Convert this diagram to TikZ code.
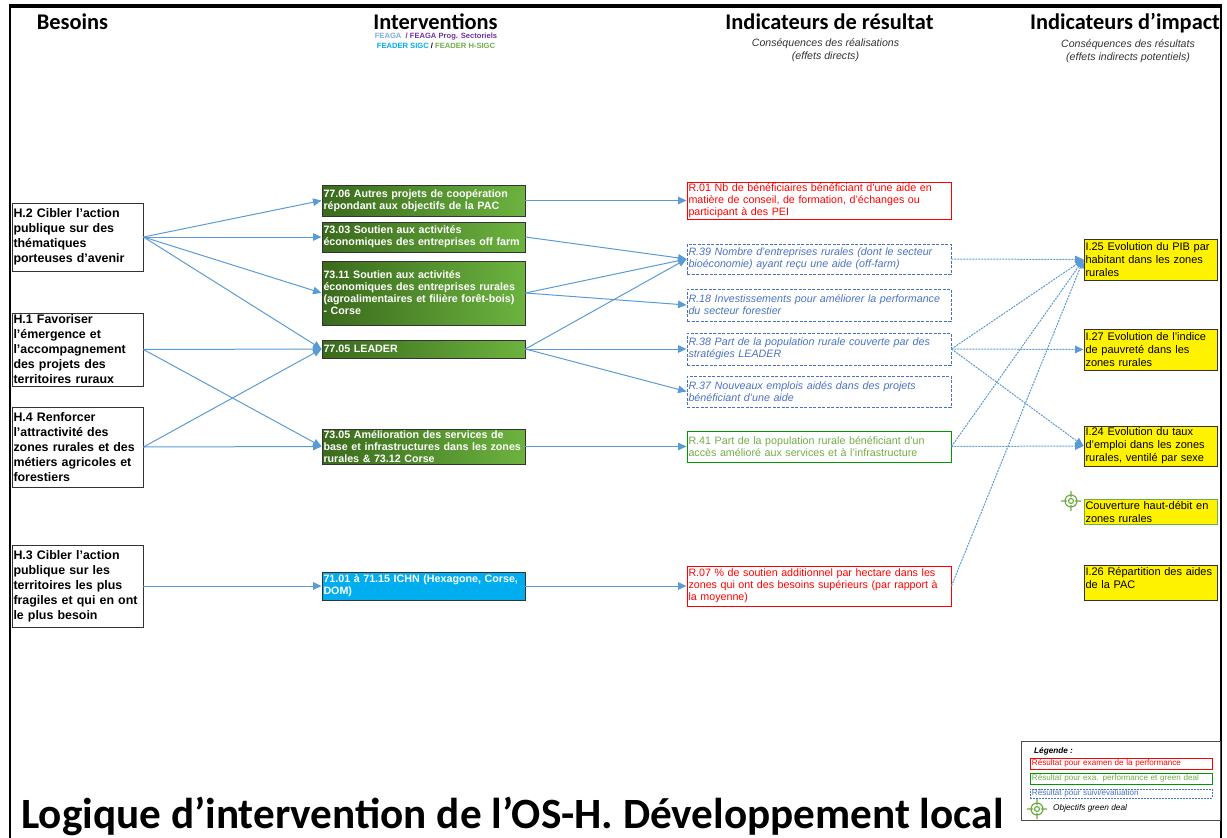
\documentclass[tikz,border=0pt]{standalone}
\usepackage{fontspec}
\setmainfont{Liberation Sans}
\newfontfamily\titlefont{Carlito}
\usetikzlibrary{arrows.meta}
\definecolor{fleche}{HTML}{5B9BD5}
\definecolor{vertfonce}{HTML}{3A6A1C}
\definecolor{vertclair}{HTML}{6CB33F}
\definecolor{vertgd}{HTML}{70AD47}
\definecolor{bleusuivi}{HTML}{4472C4}
\definecolor{texsuivi}{HTML}{4A72C4}
\definecolor{bleuichn}{HTML}{00AEEF}
\definecolor{violet}{HTML}{7030A0}
\tikzset{
    boite/.style={draw, line width=0.9pt, inner xsep=1.5pt, inner ysep=0pt, align=left},
    besoin/.style={boite, draw=black!80, text width=128pt, minimum width=131pt,
        font=\fontsize{12.4}{15}\selectfont\bfseries},
    aide/.style={boite, draw=black!80, text=white, text width=200pt, minimum width=203pt,
        left color=vertfonce, right color=vertclair,
        font=\fontsize{10.7}{12}\selectfont\bfseries},
    aidesigc/.style={aide, left color=bleuichn, right color=bleuichn},
    resultat/.style={boite, text width=261pt, minimum width=264pt, font=\fontsize{10.7}{12}\selectfont},
    perf/.style={resultat, draw=red, text=red},
    perfgd/.style={resultat, draw=green!60!black, text=vertgd},
    suivi/.style={resultat, draw=bleusuivi, text=texsuivi, dash pattern=on 3pt off 1.5pt,
        font=\fontsize{10.7}{12}\selectfont\itshape},
    impact/.style={boite, draw=black!80, fill=yellow, text width=130pt, minimum width=133pt,
        font=\fontsize{11}{13}\selectfont},
    legendebox/.style={draw, line width=0.8pt, anchor=west, minimum width=182pt, inner xsep=1.5pt, inner ysep=0pt,
        font=\fontsize{8.1}{9}\selectfont},
    entete/.style={anchor=base, inner sep=0pt, font=\titlefont\fontsize{22.4}{24}\selectfont\bfseries},
    soustitre/.style={anchor=north, inner sep=0pt, align=center, text=black!80,
        font=\fontsize{10.6}{13}\selectfont\itshape},
    lien/.style={draw=fleche, line width=1pt, -{Triangle[length=8.5pt,width=7.5pt]}},
    lienpt/.style={lien, dash pattern=on 2pt off 1pt},
    cible/.pic={
        \draw[vertgd, line width=1.2pt] (0,0) circle (6pt) (0,0) circle (2.5pt)
            (-10pt,0) -- (-4pt,0) (4pt,0) -- (10pt,0) (0,-10pt) -- (0,-4pt) (0,4pt) -- (0,10pt);
    }
}
\begin{document}
\begin{tikzpicture}[x=1pt,y=-1pt]
    \useasboundingbox (0,0) rectangle (1227,838);
    % cadre
    \draw[line width=2.5pt] (10,838) -- (10,6);
    \draw[line width=4pt] (9,6) -- (1222,6);
    \draw[line width=2pt] (1221,6) -- (1221,838);
    % entetes
    \node[entete] (tb) at (72.5,29) {Besoins};
    \node[entete] (ti) at (435.5,29) {Interventions};
    \node[entete] (tr) at (829.5,29) {Indicateurs de résultat};
    \node[entete] (tm) at (1125,29) {Indicateurs d’impact};
    \node[anchor=north, inner sep=0pt, align=center, font=\fontsize{7.6}{10}\selectfont\bfseries] (tf) at (436,33)
        {\textcolor{fleche!80}{FEAGA}\ \ \textcolor{violet}{/ FEAGA Prog. Sectoriels}\\
         \textcolor{bleuichn}{FEADER SIGC} / \textcolor{vertgd}{FEADER H-SIGC}};
    \node[soustitre] (sr) at (825.5,38) {Conséquences des réalisations\\(effets directs)};
    \node[soustitre] (sm) at (1128,39) {Conséquences des résultats\\(effets indirects potentiels)};
    % besoins
    \node[besoin, minimum height=68pt] (h2) at (77.5,237) {H.2 Cibler l’action\\publique sur des\\thématiques\\porteuses d’avenir};
    \node[besoin, minimum height=73pt] (h1) at (77.5,349.5) {H.1 Favoriser\\l’émergence et\\l’accompagnement\\des projets des\\territoires ruraux};
    \node[besoin, minimum height=80pt] (h4) at (77.5,447) {H.4 Renforcer\\l’attractivité des\\zones rurales et des\\métiers agricoles et\\forestiers};
    \node[besoin, minimum height=82pt] (h3) at (77.5,586) {H.3 Cibler l’action\\publique sur les\\territoires les plus\\fragiles et qui en ont\\le plus besoin};
    % interventions
    \node[aide, minimum height=31pt] (a7706) at (423.5,200.5) {77.06 Autres projets de coopération\\répondant aux objectifs de la PAC};
    \node[aide, minimum height=30pt] (a7303) at (423.5,237) {73.03 Soutien aux activités\\économiques des entreprises off farm};
    \node[aide, minimum height=64pt] (a7311) at (423.5,293) {73.11 Soutien aux activités\\économiques des entreprises rurales\\(agroalimentaires et filière forêt-bois)\\- Corse};
    \node[aide, minimum height=18pt] (a7705) at (423.5,349) {77.05 LEADER};
    \node[aide, minimum height=35pt] (a7305) at (423.5,446.5) {73.05 Amélioration des services de\\base et infrastructures dans les zones\\rurales \& 73.12 Corse};
    \node[aidesigc, minimum height=28pt] (a7101) at (423.5,586) {71.01 à 71.15 ICHN (Hexagone, Corse,\\DOM)};
    % resultats
    \node[perf, minimum height=37pt] (r01) at (819,200.5) {R.01 Nb de bénéficiaires bénéficiant d’une aide en\\matière de conseil, de formation, d’échanges ou\\participant à des PEI};
    \node[suivi, minimum height=30pt] (r39) at (819,259) {R.39 Nombre d’entreprises rurales (dont le secteur\\bioéconomie) ayant reçu une aide (off-farm)};
    \node[suivi, minimum height=32pt] (r18) at (819,305) {R.18 Investissements pour améliorer la performance\\du secteur forestier};
    \node[suivi, minimum height=32pt] (r38) at (819,349) {R.38 Part de la population rurale couverte par des\\stratégies LEADER};
    \node[suivi, minimum height=31pt] (r37) at (819,391.5) {R.37 Nouveaux emplois aidés dans des projets\\bénéficiant d’une aide};
    \node[perfgd, minimum height=31pt] (r41) at (819,446.5) {R.41 Part de la population rurale bénéficiant d’un\\accès amélioré aux services et à l’infrastructure};
    \node[perf, minimum height=40pt] (r07) at (819,586) {R.07 \% de soutien additionnel par hectare dans les\\zones qui ont des besoins supérieurs (par rapport à\\la moyenne)};
    % impacts
    \node[impact, minimum height=41pt] (i25) at (1150.5,259.5) {I.25 Evolution du PIB par\\habitant dans les zones\\rurales};
    \node[impact, minimum height=41pt] (i27) at (1150.5,349.5) {I.27 Evolution de l’indice\\de pauvreté dans les\\zones rurales};
    \node[impact, minimum height=40pt] (i24) at (1150.5,446) {I.24 Evolution du taux\\d’emploi dans les zones\\rurales, ventilé par sexe};
    \node[impact, draw=vertgd, minimum height=25pt] (ihd) at (1150.5,511.5) {Couverture haut-débit en\\zones rurales};
    \node[impact, minimum height=35pt] (i26) at (1150.5,582.5) {I.26 Répartition des aides\\de la PAC\\[-4pt]\mbox{}};
    \pic at (1071,501) {cible};
    % liens
    \draw[lien] (h2.east) -- (a7706.west);
    \draw[lien] (h2.east) -- (a7303.west);
    \draw[lien] (h2.east) -- (a7311.west);
    \draw[lien] (h2.east) -- (a7705.west);
    \draw[lien] (h1.east) -- (a7705.west);
    \draw[lien] (h1.east) -- (a7305.west);
    \draw[lien] (h4.east) -- (a7705.west);
    \draw[lien] (h4.east) -- (a7305.west);
    \draw[lien] (h3.east) -- (a7101.west);
    \draw[lien] (a7706.east) -- (r01.west);
    \draw[lien] (a7303.east) -- (r39.west);
    \draw[lien] (a7311.east) -- (r39.west);
    \draw[lien] (a7311.east) -- (r18.west);
    \draw[lien] (a7705.east) -- (r39.west);
    \draw[lien] (a7705.east) -- (r38.west);
    \draw[lien] (a7705.east) -- (r37.west);
    \draw[lien] (a7305.east) -- (r41.west);
    \draw[lien] (a7101.east) -- (r07.west);
    \draw[lienpt] (r39.east) -- (i25.west);
    \draw[lienpt] (r38.east) -- (i25.west);
    \draw[lienpt] (r38.east) -- (i27.west);
    \draw[lienpt] (r38.east) -- (i24.west);
    \draw[lienpt] (r41.east) -- (i25.west);
    \draw[lienpt] (r41.east) -- (i24.west);
    \draw[lienpt] (r07.east) -- (i25.west);
    % legende
    \node[draw=black!70, line width=1pt, fill=white, minimum width=199pt, minimum height=79pt, inner sep=0pt] (leg) at (1120.5,780.5) {};
    \node[anchor=base west, inner sep=0pt, font=\fontsize{8.2}{9}\selectfont\bfseries\itshape] (lt) at (1034,753) {Légende :};
    \node[legendebox, draw=red, text=red, minimum height=11pt, text width=179pt] (l1) at (1030,763.5) {Résultat pour examen de la performance};
    \node[legendebox, draw=green!60!black, text=vertgd, minimum height=11pt, text width=179pt] (l2) at (1030,778.5) {Résultat pour exa. performance et green deal};
    \node[legendebox, draw=bleusuivi, text=texsuivi, dash pattern=on 2pt off 1pt, minimum height=9pt, text width=179pt, text height=5pt, text depth=1pt] (l3) at (1030,793.5) {Résultat pour suivi/évaluation};
    \node[anchor=base west, inner sep=0pt, font=\fontsize{8.3}{9}\selectfont\itshape] (l4) at (1053,810) {Objectifs green deal};
    \pic at (1037,809) {cible};
    % titre
    \node[anchor=base west, inner sep=0pt, font=\titlefont\fontsize{43.2}{45}\selectfont\bfseries] (titre) at (21,828) {Logique d’intervention de l’OS-H. Développement local};
\end{tikzpicture}
\end{document}
